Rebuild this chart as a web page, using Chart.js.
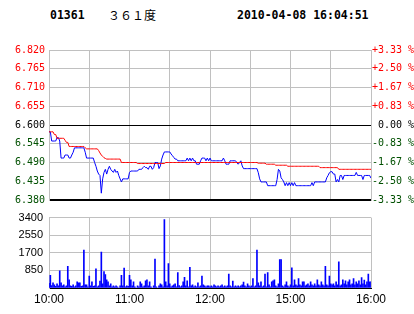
<!DOCTYPE html>
<html>
<head>
<meta charset="utf-8">
<script src="https://cdn.jsdelivr.net/npm/chart.js@4"></script>
<style>
  body { margin: 0; background: #fff; width: 414px; height: 314px; position: relative; overflow: hidden; }
  .hdr { position: absolute; top: 8px; font: bold 11.5px "DejaVu Sans Mono", monospace; color: #000; white-space: pre; }
  canvas { position: absolute; left: 0; }
</style>
</head>
<body>
<span class="hdr" style="left:50px">01361</span>
<span class="hdr" style="left:108px;top:6px;font:12px 'Noto Sans CJK SC'">３６１度</span>
<span class="hdr" style="left:237px">2010-04-08 16:04:51</span>
<canvas id="priceChart" width="414" height="170" style="top:40px"></canvas>
<canvas id="volChart" width="414" height="109" style="top:205px"></canvas>
<script>
// previous close + axis ticks
const prevClose = 6.600
const priceTicks = [6.380, 6.435, 6.490, 6.545, 6.600, 6.655, 6.710, 6.765, 6.820]
const volTicks = [0, 850, 1700, 2550, 3400]
const gridMinutes = [0, 30, 60, 90, 120, 150, 180, 210, 240]
const timeTickPos = [0, 60, 120, 180, 240]
const timeTickLabels = ["10:00", "11:00", "12:00", "15:00", "16:00"]

// one value per minute, 10:00 .. 16:00 (241 points)
const price = [
  6.580, 6.580, 6.553, 6.553, 6.553, 6.553, 6.563, 6.563, 6.553, 6.503,
  6.503, 6.503, 6.512, 6.512, 6.512, 6.503, 6.503, 6.512, 6.520, 6.533,
  6.533, 6.533, 6.533, 6.533, 6.533, 6.533, 6.533, 6.520, 6.503, 6.503,
  6.503, 6.503, 6.503, 6.503, 6.490, 6.479, 6.465, 6.456, 6.452, 6.400,
  6.442, 6.461, 6.470, 6.456, 6.470, 6.479, 6.470, 6.465, 6.461, 6.470,
  6.461, 6.465, 6.452, 6.442, 6.433, 6.442, 6.442, 6.442, 6.442, 6.442,
  6.461, 6.465, 6.465, 6.465, 6.465, 6.465, 6.465, 6.470, 6.470, 6.470,
  6.475, 6.479, 6.475, 6.475, 6.470, 6.479, 6.479, 6.470, 6.475, 6.490,
  6.490, 6.490, 6.472, 6.480, 6.500, 6.512, 6.521, 6.521, 6.521, 6.521,
  6.521, 6.515, 6.510, 6.505, 6.500, 6.500, 6.495, 6.495, 6.495, 6.495,
  6.495, 6.495, 6.495, 6.503, 6.495, 6.503, 6.495, 6.503, 6.495, 6.495,
  6.485, 6.485, 6.485, 6.495, 6.503, 6.503, 6.503, 6.495, 6.503, 6.495,
  6.503, 6.495, 6.495, 6.495, 6.495, 6.495, 6.495, 6.495, 6.495, 6.495,
  6.503, 6.495, 6.485, 6.485, 6.485, 6.495, 6.495, 6.495, 6.495, 6.495,
  6.490, 6.485, 6.490, 6.495, 6.480, 6.472, 6.472, 6.472, 6.472, 6.472,
  6.472, 6.472, 6.472, 6.472, 6.472, 6.472, 6.460, 6.442, 6.433, 6.433,
  6.433, 6.433, 6.433, 6.422, 6.422, 6.422, 6.422, 6.422, 6.422, 6.422,
  6.440, 6.470, 6.465, 6.445, 6.440, 6.433, 6.422, 6.431, 6.422, 6.431,
  6.422, 6.431, 6.422, 6.431, 6.422, 6.422, 6.422, 6.422, 6.422, 6.422,
  6.422, 6.422, 6.422, 6.422, 6.422, 6.422, 6.431, 6.422, 6.433, 6.433,
  6.433, 6.433, 6.433, 6.433, 6.433, 6.433, 6.433, 6.445, 6.452, 6.460,
  6.463, 6.463, 6.456, 6.456, 6.433, 6.440, 6.433, 6.452, 6.452, 6.440,
  6.452, 6.452, 6.452, 6.452, 6.452, 6.452, 6.452, 6.452, 6.452, 6.461,
  6.452, 6.452, 6.452, 6.452, 6.440, 6.452, 6.452, 6.452, 6.452, 6.452,
  6.444
]

const avgPrice = [
  6.580, 6.580, 6.580, 6.580, 6.572, 6.572, 6.561, 6.561, 6.561, 6.561,
  6.561, 6.561, 6.555, 6.549, 6.549, 6.537, 6.537, 6.537, 6.537, 6.537,
  6.537, 6.537, 6.537, 6.537, 6.537, 6.537, 6.537, 6.533, 6.530, 6.530,
  6.530, 6.530, 6.530, 6.530, 6.530, 6.530, 6.530, 6.525, 6.518, 6.512,
  6.508, 6.504, 6.502, 6.500, 6.500, 6.500, 6.500, 6.500, 6.500, 6.500,
  6.500, 6.500, 6.500, 6.500, 6.490, 6.490, 6.490, 6.490, 6.490, 6.490,
  6.490, 6.490, 6.490, 6.490, 6.490, 6.490, 6.487, 6.487, 6.487, 6.487,
  6.487, 6.487, 6.487, 6.487, 6.487, 6.487, 6.487, 6.487, 6.487, 6.487,
  6.487, 6.487, 6.487, 6.487, 6.487, 6.487, 6.487, 6.490, 6.490, 6.490,
  6.490, 6.490, 6.490, 6.490, 6.490, 6.490, 6.490, 6.490, 6.490, 6.490,
  6.490, 6.490, 6.490, 6.490, 6.490, 6.490, 6.490, 6.490, 6.490, 6.490,
  6.490, 6.490, 6.490, 6.490, 6.490, 6.490, 6.490, 6.490, 6.490, 6.490,
  6.490, 6.490, 6.490, 6.490, 6.490, 6.490, 6.490, 6.490, 6.490, 6.490,
  6.490, 6.490, 6.490, 6.490, 6.490, 6.490, 6.490, 6.490, 6.490, 6.490,
  6.490, 6.490, 6.490, 6.490, 6.490, 6.490, 6.490, 6.490, 6.490, 6.490,
  6.490, 6.490, 6.490, 6.490, 6.490, 6.490, 6.488, 6.488, 6.488, 6.488,
  6.488, 6.488, 6.485, 6.485, 6.485, 6.485, 6.485, 6.485, 6.485, 6.482,
  6.482, 6.482, 6.482, 6.482, 6.482, 6.482, 6.482, 6.482, 6.479, 6.479,
  6.479, 6.479, 6.479, 6.479, 6.479, 6.479, 6.479, 6.479, 6.479, 6.479,
  6.479, 6.479, 6.479, 6.479, 6.479, 6.479, 6.479, 6.479, 6.479, 6.479,
  6.479, 6.479, 6.475, 6.475, 6.475, 6.475, 6.475, 6.475, 6.475, 6.475,
  6.475, 6.475, 6.475, 6.475, 6.475, 6.475, 6.470, 6.470, 6.470, 6.470,
  6.470, 6.470, 6.470, 6.470, 6.470, 6.470, 6.470, 6.470, 6.470, 6.470,
  6.470, 6.470, 6.470, 6.470, 6.470, 6.470, 6.470, 6.470, 6.470, 6.470,
  6.470
]

const volume = [
  230, 610, 120, 250, 150, 80, 200, 100, 830, 250,
  100, 150, 60, 100, 1050, 390, 100, 80, 150, 60,
  100, 300, 250, 250, 80, 100, 1830, 150, 150, 60,
  570, 100, 300, 80, 100, 930, 60, 100, 330, 1730,
  200, 790, 650, 400, 300, 100, 200, 60, 100, 60,
  100, 60, 0, 100, 610, 100, 960, 60, 100, 80,
  610, 400, 100, 300, 60, 0, 100, 60, 300, 200,
  60, 100, 350, 400, 100, 300, 60, 0, 100, 1400,
  60, 0, 100, 200, 150, 60, 3300, 300, 100, 1180,
  200, 60, 100, 150, 200, 60, 740, 120, 60, 100,
  300, 520, 100, 350, 60, 1000, 100, 150, 60, 100,
  60, 250, 60, 100, 570, 150, 100, 60, 100, 100,
  60, 100, 60, 150, 100, 60, 100, 60, 100, 150,
  60, 100, 60, 100, 670, 100, 60, 330, 60, 100,
  60, 100, 60, 100, 150, 290, 100, 60, 200, 100,
  60, 100, 450, 60, 100, 1830, 250, 100, 300, 60,
  100, 670, 60, 750, 150, 60, 300, 350, 400, 100,
  60, 200, 1370, 1370, 100, 60, 150, 300, 100, 60,
  150, 970, 100, 400, 150, 100, 450, 150, 100, 300,
  300, 100, 150, 200, 100, 300, 150, 100, 200, 100,
  390, 150, 100, 300, 150, 100, 1050, 150, 100, 570,
  200, 150, 200, 100, 300, 150, 1260, 100, 150, 400,
  200, 350, 150, 300, 400, 150, 200, 450, 150, 300,
  200, 350, 150, 500, 200, 380, 150, 300, 670, 300,
  300
]

const GRID = "#c0c0c0"
const RED = "#ff0000"
const GREEN = "#005000"
const near = (a, b) => Math.abs(a - b) < 1e-6

function tickColour(v) {
  if (near(v, prevClose)) return "#000"
  return v > prevClose ? RED : GREEN
}

Chart.defaults.font.family = "'Liberation Sans', Arial, sans-serif"
Chart.defaults.animation = false

const timeAxis = (showLabels, h) => ({
  type: "linear",
  min: 0,
  max: 240,
  offset: false,
  afterBuildTicks: s => { s.ticks = gridMinutes.map(v => ({value: v})) },
  afterFit: s => { s.height = h },
  grid: {color: GRID, drawTicks: false, offset: false},
  border: {color: "#000"},
  ticks: {
    display: showLabels,
    autoSkip: false,
    maxRotation: 0,
    padding: 4,
    color: "#000",
    font: {size: 12},
    callback: v => {
      let k = timeTickPos.indexOf(v)
      return k >= 0 ? timeTickLabels[k] : ""
    }
  }
})

new Chart("priceChart", {
  type: "line",
  data: {
    datasets: [{
      data: avgPrice.map((p, i) => ({x: i, y: p})),
      borderColor: RED,
      borderWidth: 1,
      pointRadius: 0,
      lineTension: 0,
      fill: false
    }, {
      data: price.map((p, i) => ({x: i, y: p})),
      borderColor: "#0000ff",
      borderWidth: 1,
      pointRadius: 0,
      lineTension: 0,
      fill: false
    }]
  },
  options: {
    responsive: false,
    layout: {padding: {top: 5, bottom: 6}},
    plugins: {legend: {display: false}, tooltip: {enabled: false}},
    scales: {
      x: timeAxis(false, 0),
      y: {
        position: "left",
        min: 6.38,
        max: 6.82,
        afterBuildTicks: s => { s.ticks = priceTicks.map(v => ({value: v})) },
        afterFit: s => { s.width = 49 },
        grid: {
          drawTicks: false,
          color: c => (near(c.tick.value, prevClose) || near(c.tick.value, 6.38)) ? "#000" : GRID,
          lineWidth: c => near(c.tick.value, 6.38) ? 2 : 1
        },
        border: {color: GRID},
        ticks: {
          padding: 4,
          font: {family: "'DejaVu Sans Mono', monospace", size: 10},
          color: c => tickColour(c.tick.value),
          callback: v => v.toFixed(3)
        }
      },
      y1: {
        position: "right",
        min: 6.38,
        max: 6.82,
        afterBuildTicks: s => { s.ticks = priceTicks.map(v => ({value: v})) },
        afterFit: s => { s.width = 43 },
        grid: {display: false, drawTicks: false},
        border: {color: GRID},
        ticks: {
          padding: 1,
          font: {family: "'DejaVu Sans Mono', monospace", size: 10},
          color: c => tickColour(c.tick.value),
          callback: v => {
            let pct = (v - prevClose) / prevClose * 100
            let sign = near(v, prevClose) ? " " : (pct > 0 ? "+" : "-")
            return sign + Math.abs(pct).toFixed(2) + " %"
          }
        }
      }
    }
  }
})

new Chart("volChart", {
  type: "bar",
  data: {
    datasets: [{
      data: volume.map((v, i) => ({x: i, y: v})),
      backgroundColor: "#0000ff",
      barThickness: 1
    }]
  },
  options: {
    responsive: false,
    layout: {padding: {top: 5, right: 43, bottom: 0}},
    plugins: {legend: {display: false}, tooltip: {enabled: false}},
    scales: {
      x: timeAxis(true, 26),
      y: {
        min: 0,
        max: 3400,
        afterBuildTicks: s => { s.ticks = volTicks.map(v => ({value: v})) },
        afterFit: s => { s.width = 49 },
        grid: {drawTicks: false, color: c => c.tick.value === 0 ? "#000" : GRID},
        border: {color: GRID},
        ticks: {
          padding: 6,
          color: "#000",
          font: {size: 11},
          callback: v => v === 0 ? "" : String(v)
        }
      }
    }
  }
})
</script>
</body>
</html>
